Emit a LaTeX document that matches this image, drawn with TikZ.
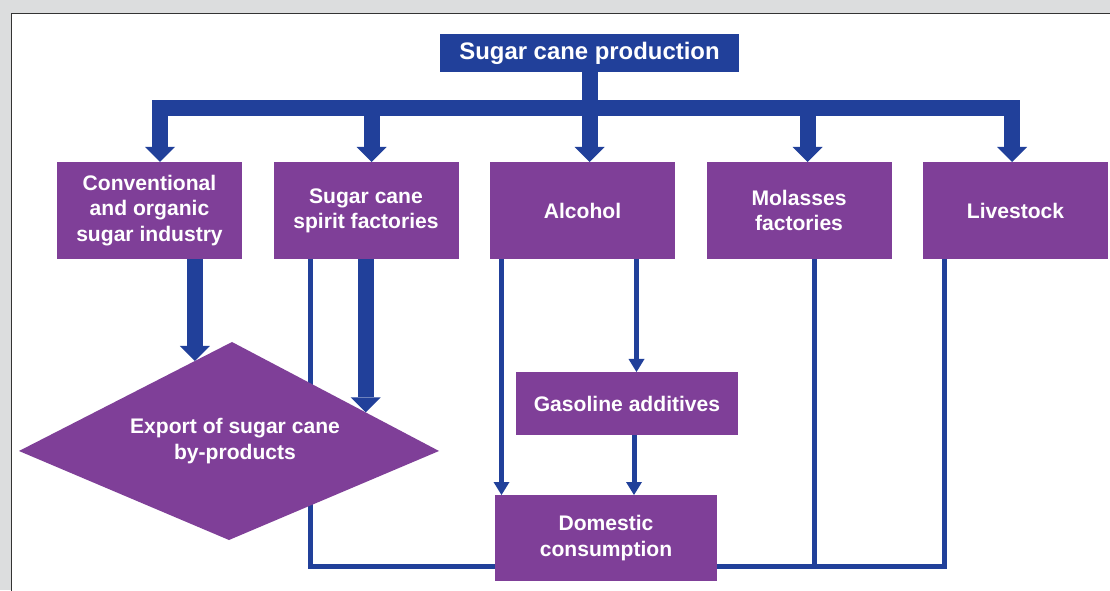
\documentclass[tikz,border=0pt]{standalone}
\usepackage{fontspec}
\setmainfont{Liberation Sans}
\usepackage{tikz}
\usetikzlibrary{arrows.meta, positioning, calc, backgrounds}
\definecolor{caneBlue}{HTML}{21409A}
\definecolor{canePurple}{HTML}{7F3F98}
\definecolor{pageGrey}{HTML}{DCDDDE}
\definecolor{frameGrey}{HTML}{333333}

\begin{document}
\begin{tikzpicture}[
	boxText/.style={text=white, font=\fontsize{15}{18}\selectfont\bfseries, align=center, inner sep=0pt, outer sep=0pt},
	box/.style={boxText, rectangle, fill=canePurple, minimum width=4.625cm, minimum height=2.425cm},
	bigArrow/.style={draw=caneBlue, line width=0.4cm, -{Triangle[width=0.75cm, length=0.375cm, line width=0pt]}},
	thinArrow/.style={draw=caneBlue, line width=0.125cm, -{Triangle[width=0.4cm, length=0.325cm, line width=0pt]}},
	feedLine/.style={draw=caneBlue, line width=0.125cm}
]
	\useasboundingbox (0,0) rectangle (27.75,14.75);
	\begin{pgfonlayer}{background}
		\fill[pageGrey] (0,0) rectangle (27.75,14.75);
		\filldraw[fill=white, draw=frameGrey, line width=1.1pt] (0.2875,-1) rectangle (29,14.4125);
	\end{pgfonlayer}

	\node[box, fill=caneBlue, font=\fontsize{17}{20}\selectfont\bfseries, minimum width=7.475cm, minimum height=0.95cm] (prod) at (14.7375,13.425) {Sugar cane production};

	\node[box] (conv) at (3.7375,9.4875) {Conventional\\and organic\\sugar industry};
	\node[box, right=0.7875cm of conv] (spirit) {Sugar cane\\spirit factories};
	\node[box, right=0.7875cm of spirit] (alc) {Alcohol};
	\node[box, right=0.7875cm of alc] (mol) {Molasses\\factories};
	\node[box, right=0.7875cm of mol] (live) {Livestock};

	\coordinate (eLeft) at (0.475,3.475);
	\coordinate (eTop) at (5.8,6.2);
	\coordinate (eRight) at (10.975,3.475);
	\coordinate (eBottom) at (5.725,1.25);
	\fill[canePurple] (eLeft) -- (eTop) -- (eRight) -- (eBottom) -- cycle;
	\node[boxText] (export) at (5.875,3.725) {Export of sugar cane\\by-products};

	\node[box, minimum width=5.55cm, minimum height=1.575cm] (gas) at (15.675,4.6625) {Gasoline additives};
	\node[box, minimum width=5.55cm, minimum height=2.15cm] (dom) at (15.15,1.3) {Domestic\\consumption};

	\coordinate (hub) at ([yshift=-0.9cm]prod.south);
	\coordinate (dConv) at ([xshift=0.2625cm]conv.north);
	\coordinate (dSpirit) at ([xshift=0.1375cm]spirit.north);
	\coordinate (dMol) at ([xshift=0.2125cm]mol.north);
	\coordinate (dLive) at ([xshift=-0.0875cm]live.north);

	\draw[bigArrow, -, line cap=rect] (dConv |- hub) -- (dLive |- hub);
	\draw[bigArrow] (prod.south) -- (prod.south |- alc.north);
	\foreach \d in {dConv, dSpirit, dMol, dLive}
		\draw[bigArrow] (\d |- hub) -- (\d);

	\coordinate (cTip) at ($(eLeft)!0.826!(eTop)$);
	\coordinate (sTip) at ($(eTop)!0.646!(eRight)$);
	\draw[bigArrow] (cTip |- conv.south) -- (cTip);
	\draw[bigArrow] (sTip |- spirit.south) -- (sTip);

	\coordinate (aLeft) at ([xshift=-2.025cm]alc.south);
	\coordinate (aRight) at ([xshift=1.35cm]alc.south);
	\coordinate (gDown) at ([xshift=0.175cm]gas.south);
	\draw[thinArrow] (aLeft) -- (aLeft |- dom.north);
	\draw[thinArrow] (aRight) -- (aRight |- gas.north);
	\draw[thinArrow] (gDown) -- (gDown |- dom.north);

	\coordinate (floor) at (0,0.6);
	\coordinate (sLine) at ([xshift=-1.4cm]spirit.south);
	\coordinate (mLine) at ([xshift=0.375cm]mol.south);
	\coordinate (lLine) at ([xshift=-1.7875cm]live.south);
	\begin{pgfonlayer}{background}
		\draw[feedLine] (sLine) -- (sLine |- floor) -- (lLine |- floor) -- (lLine);
		\draw[feedLine] (mLine) -- (mLine |- floor);
	\end{pgfonlayer}

\end{tikzpicture}
\end{document}
